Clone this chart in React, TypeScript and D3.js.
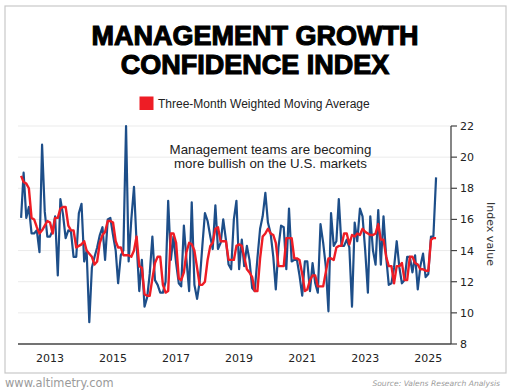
import { useEffect } from 'react';
import * as d3 from 'd3';

// monthly readings, Feb 2012 .. Apr 2025
const firstMonth = new Date(2012, 1, 1);

const indexValues = [
  16.1, 19.0, 16.1, 16.8, 15.1, 15.1, 15.3, 13.9, 20.8, 16.5, 14.9,
  14.9, 15.3, 16.2, 12.4, 17.3, 16.3, 14.8, 15.3, 15.2, 13.6, 13.6, 16.4,
  17.0, 13.3, 14.0, 9.4, 12.9, 13.6, 14.2, 15.0, 15.5, 13.4, 16.0, 16.1,
  15.0, 14.0, 11.9, 13.7, 14.0, 22.0, 13.3, 16.0, 18.1, 14.5, 11.4, 13.4,
  10.4, 11.0, 12.5, 14.9, 12.1, 11.8, 11.3, 11.3, 12.0, 17.2, 13.4, 14.9,
  13.2, 11.9, 11.7, 15.6, 13.4, 11.4, 17.1, 11.8, 10.9, 12.0, 14.3, 16.4,
  15.9, 14.9, 14.1, 16.9, 14.1, 14.5, 16.0, 14.7, 13.1, 12.8, 16.0, 17.2,
  12.8, 14.7, 13.0, 14.3, 13.4, 11.6, 11.4, 13.5, 15.4, 16.2, 17.7, 15.8,
  15.1, 13.6, 11.5, 14.2, 15.6, 15.5, 12.8, 16.7, 13.3, 13.4, 13.4, 12.4,
  11.1, 13.3, 13.3, 11.4, 13.2, 11.9, 11.3, 15.7, 14.5, 13.0, 10.1, 16.4,
  14.3, 14.6, 17.3, 14.3, 14.3, 14.7, 14.2, 10.4, 15.8, 14.6, 16.7, 16.2,
  14.0, 11.3, 16.2, 14.0, 13.1, 16.6, 13.1, 16.2, 13.6, 11.8, 11.9, 12.9,
  14.6, 12.9, 11.9, 12.1, 13.6, 13.6, 12.6, 13.7, 11.5, 13.0, 13.8, 12.3,
  12.5, 14.9, 14.9, 18.7,
];

const movingAverage = [
  18.8, 18.4, 18.3, 18.0, 16.1, 16.0, 15.5, 15.1, 15.3, 15.6, 15.9,
  15.8, 15.1, 16.1, 16.1, 16.7, 16.8, 16.8, 15.6, 15.3, 15.3, 14.2, 14.3,
  14.4, 14.6, 14.0, 13.8, 13.6, 13.1, 13.3, 14.5, 15.0, 15.2, 15.9, 15.9,
  15.8, 14.6, 14.2, 14.2, 13.7, 13.7, 13.7, 13.6, 14.0, 14.9, 13.0, 12.9,
  11.2, 11.1, 11.1, 12.2, 13.2, 13.6, 13.6, 11.8, 11.3, 11.4, 15.1, 15.1,
  14.5, 12.2, 12.1, 12.6, 13.9, 14.5, 14.4, 14.0, 12.9, 11.8, 11.8, 12.0,
  13.4, 14.3, 14.5, 15.4, 15.5, 14.6, 14.6, 14.6, 13.4, 13.4, 13.4, 14.3,
  14.4, 14.3, 13.6, 12.8, 12.6, 12.3, 11.4, 11.4, 13.5, 14.9, 15.1, 15.4,
  15.1, 15.0, 14.5, 13.0, 13.0, 13.0, 14.8, 14.8, 14.8, 13.5, 13.5, 13.4,
  12.5, 11.4, 11.5, 12.1, 12.4, 12.4, 11.7, 11.7, 11.7, 12.6, 13.5, 13.5,
  13.4, 14.2, 14.3, 14.3, 15.1, 15.1, 14.4, 15.0, 14.9, 15.1, 15.0, 15.4,
  15.2, 15.1, 15.0, 15.0, 15.1, 15.7, 14.7, 14.7, 13.6, 13.0, 13.0, 11.9,
  13.0, 13.0, 13.2, 12.1, 12.1, 13.6, 13.6, 13.2, 13.1, 12.8, 12.8, 12.7,
  12.7, 14.7, 14.8, 14.8,
];

const yearTicks = [2013, 2015, 2017, 2019, 2021, 2023, 2025];
const valueTicks = [8, 10, 12, 14, 16, 18, 20, 22];

const BLUE = '#1d4e89';
const RED = '#ee1d25';
const FONT = '"DejaVu Sans", sans-serif';
const HEAD = '"Liberation Sans", Arial, sans-serif';

const App = () => {
  useEffect(() => {
    document.body.style.margin = '0';
  }, []);

  const width = 510;
  const height = 391;
  const plot = { left: 18, right: 451, top: 126, bottom: 344 };

  const x = d3.scaleTime()
    .domain([new Date(2011, 11, 27), new Date(2025, 8, 21)])
    .range([plot.left, plot.right]);
  const y = d3.scaleLinear().domain([8, 22]).range([plot.bottom, plot.top]);

  const dates = indexValues.map((_, i) => d3.timeMonth.offset(firstMonth, i));

  const line = d3.line<number>()
    .x((_, i) => x(dates[i]))
    .y(d => y(d));

  return (
    <svg width={width} height={height} style={{ display: 'block' }}>
      <rect x={0} y={0} width={width} height={height} fill="#fff" />
      <rect x={5} y={6} width={501} height={367} fill="none" stroke="#c8c8c8" strokeWidth={1.2} />

      {/* title */}
      <text x={255} y={45} textAnchor="middle" fontFamily={HEAD} fontWeight={700}
        fontSize={27} stroke="#000" strokeWidth={1.1} fill="#000">MANAGEMENT GROWTH</text>
      <text x={255} y={74} textAnchor="middle" fontFamily={HEAD} fontWeight={700}
        fontSize={27} stroke="#000" strokeWidth={1.1} fill="#000">CONFIDENCE INDEX</text>

      {/* legend */}
      <rect x={139.5} y={96.5} width={14} height={13.5} fill={RED} />
      <text x={158} y={107.5} fontFamily={HEAD} fontSize={12} fill="#222">
        Three-Month Weighted Moving Average
      </text>

      {/* grid */}
      {valueTicks.filter(v => v > 8).map(v => (
        <line key={v} x1={plot.left} x2={plot.right} y1={y(v)} y2={y(v)}
          stroke="#ebebeb" strokeWidth={1} />
      ))}

      {/* annotation */}
      <text x={270.5} y={154} textAnchor="middle" fontFamily={HEAD} fontSize={13.3} fill="#222">
        Management teams are becoming
      </text>
      <text x={270.5} y={167.5} textAnchor="middle" fontFamily={HEAD} fontSize={13.3} fill="#222">
        more bullish on the U.S. markets
      </text>

      {/* series */}
      <path d={line(indexValues) ?? ''} fill="none" stroke={BLUE} strokeWidth={2.2}
        strokeLinejoin="round" />
      <path d={line(movingAverage) ?? ''} fill="none" stroke={RED} strokeWidth={2.4}
        strokeLinejoin="round" />

      {/* x axis */}
      <line x1={plot.left} x2={plot.right} y1={plot.bottom} y2={plot.bottom}
        stroke="#444" strokeWidth={1.3} />
      {yearTicks.map(yr => (
        <text key={yr} x={x(new Date(yr, 0, 1))} y={362} textAnchor="middle"
          fontFamily={FONT} fontSize={11} fill="#222">{yr}</text>
      ))}

      {/* right axis */}
      <line x1={plot.right} x2={plot.right} y1={plot.top} y2={plot.bottom}
        stroke="#444" strokeWidth={1.3} />
      {valueTicks.map(v => (
        <g key={v} transform={`translate(${plot.right},${y(v)})`}>
          <line x1={0} x2={6} stroke="#444" strokeWidth={1.2} />
          <text x={9} dy="0.36em" fontFamily={FONT} fontSize={11} fill="#222">{v}</text>
        </g>
      ))}
      <text transform="translate(487,234) rotate(90)" textAnchor="middle"
        fontFamily={FONT} fontSize={11} fill="#333">Index value</text>

      {/* footer */}
      <text x={5} y={387} fontFamily={FONT} fontSize={11.4} fill="#9a9a9a">www.altimetry.com</text>
      <text x={500} y={386} textAnchor="end" fontFamily={FONT} fontStyle="italic"
        fontSize={7.6} fill="#9a9a9a">Source: Valens Research Analysis</text>
    </svg>
  );
};

export default App;
